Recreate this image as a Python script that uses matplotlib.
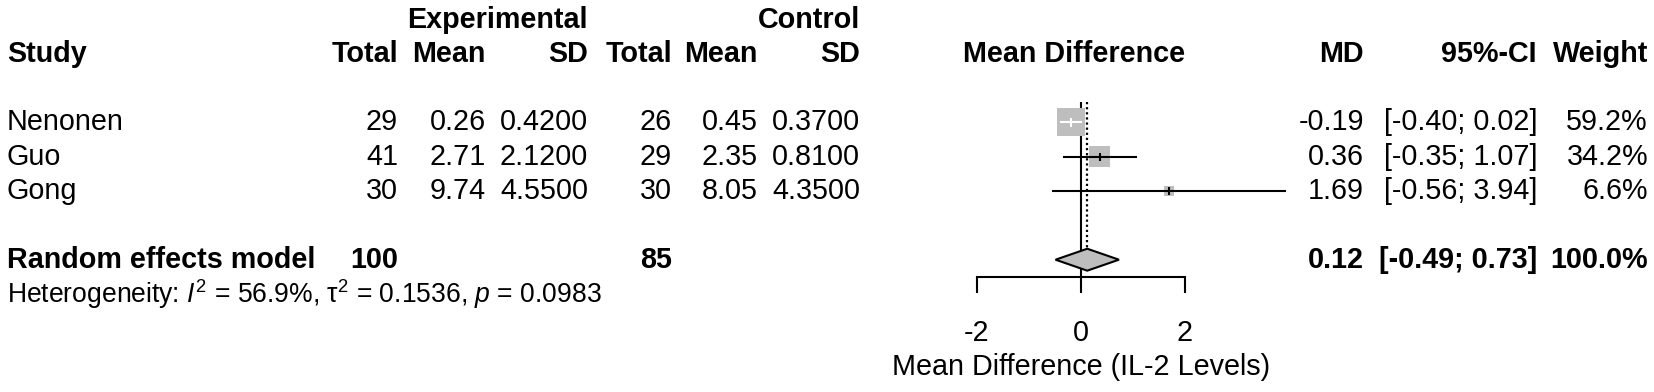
import numpy as np
import matplotlib
matplotlib.use('Agg')
import matplotlib.pyplot as plt
from matplotlib.patches import Polygon, Rectangle

plt.rcParams['font.family'] = ['Liberation Sans', 'DejaVu Sans']
plt.rcParams['mathtext.fontset'] = 'custom'
plt.rcParams['mathtext.rm'] = 'Liberation Sans'
plt.rcParams['mathtext.it'] = 'Liberation Sans:italic'

# study data
studies = ['Nenonen', 'Guo', 'Gong']
exp_n = [29, 41, 30]
exp_mean = [0.26, 2.71, 9.74]
exp_sd = [0.42, 2.12, 4.55]
ctl_n = [26, 29, 30]
ctl_mean = [0.45, 2.35, 8.05]
ctl_sd = [0.37, 0.81, 4.35]
md = [-0.19, 0.36, 1.69]
ci_lo = [-0.40, -0.35, -0.56]
ci_hi = [0.02, 1.07, 3.94]
weight = [59.2, 34.2, 6.6]

# pooled (random effects)
re_n_exp, re_n_ctl = 100, 85
re_md, re_lo, re_hi = 0.12, -0.49, 0.73
re_weight = 100.0
het_text = r"Heterogeneity: $\mathit{I}^{2}$ = 56.9%, τ$^{2}$ = 0.1536, $\mathit{p}$ = 0.0983"

xticks = [-2, 0, 2]
xlabel = 'Mean Difference (IL-2 Levels)'

W, H, DPI = 1654, 392, 100
FS = 20.7
FS_HET = 19.1
GRAY = '#BEBEBE'
ylim = (7.857, -3.571)  # row units, row 0 = first study
px_per_row = H / (ylim[0] - ylim[1])

fig = plt.figure(figsize=(W / DPI, H / DPI), dpi=DPI)
fig.patch.set_facecolor('white')

# text layer, x in pixels, y in rows
ax = fig.add_axes([0, 0, 1, 1])
ax.set_xlim(0, W)
ax.set_ylim(*ylim)
ax.axis('off')

col_study = 7
col_en, col_em, col_es = 398, 486, 588
col_cn, col_cm, col_cs = 672, 758, 860
col_md, col_ci, col_w = 1364, 1537, 1648

bold = dict(fontsize=FS, fontweight='bold', va='center')
norm = dict(fontsize=FS, va='center')

ax.text(col_es, -3, 'Experimental', ha='right', **bold)
ax.text(col_cs, -3, 'Control', ha='right', **bold)
ax.text(col_study, -2, 'Study', ha='left', **bold)
for x, lab in [(col_en, 'Total'), (col_em, 'Mean'), (col_es, 'SD'),
               (col_cn, 'Total'), (col_cm, 'Mean'), (col_cs, 'SD'),
               (col_md, 'MD'), (col_ci, '95%-CI'), (col_w, 'Weight')]:
    ax.text(x, -2, lab, ha='right', **bold)
ax.text(1074, -2, 'Mean Difference', ha='center', **bold)

for i, s in enumerate(studies):
    ax.text(col_study, i, s, ha='left', **norm)
    ax.text(col_en, i, f'{exp_n[i]}', ha='right', **norm)
    ax.text(col_em, i, f'{exp_mean[i]:.2f}', ha='right', **norm)
    ax.text(col_es, i, f'{exp_sd[i]:.4f}', ha='right', **norm)
    ax.text(col_cn, i, f'{ctl_n[i]}', ha='right', **norm)
    ax.text(col_cm, i, f'{ctl_mean[i]:.2f}', ha='right', **norm)
    ax.text(col_cs, i, f'{ctl_sd[i]:.4f}', ha='right', **norm)
    ax.text(col_md, i, f'{md[i]:.2f}', ha='right', **norm)
    ax.text(col_ci, i, f'[{ci_lo[i]:.2f}; {ci_hi[i]:.2f}]', ha='right', **norm)
    ax.text(col_w, i, f'{weight[i]:.1f}%', ha='right', **norm)

r = 4
ax.text(col_study, r, 'Random effects model', ha='left', **bold)
ax.text(col_en, r, f'{re_n_exp}', ha='right', **bold)
ax.text(col_cn, r, f'{re_n_ctl}', ha='right', **bold)
ax.text(col_md, r, f'{re_md:.2f}', ha='right', **bold)
ax.text(col_ci, r, f'[{re_lo:.2f}; {re_hi:.2f}]', ha='right', **bold)
ax.text(col_w, r, f'{re_weight:.1f}%', ha='right', **bold)
ax.text(col_study, 5, het_text, ha='left', va='center', fontsize=FS_HET)

# forest panel: 0 at 1081 px, 52 px per unit
x0_px, ppu = 1081, 52
xmin, xmax = -2.6, 4.3
left = (x0_px + xmin * ppu) / W
width = (xmax - xmin) * ppu / W
fx = fig.add_axes([left, 0, width, 1])
fx.set_xlim(xmin, xmax)
fx.set_ylim(*ylim)
fx.patch.set_visible(False)
for sp in ['top', 'left', 'right']:
    fx.spines[sp].set_visible(False)
fx.spines['bottom'].set_position(('data', 4.5))
fx.spines['bottom'].set_bounds(xticks[0], xticks[-1])
fx.spines['bottom'].set_linewidth(1.5)
fx.set_yticks([])
fx.set_xticks(xticks)
fx.set_xticklabels([str(t) for t in xticks])
fx.tick_params(axis='x', direction='out', length=11.5, width=1.5, labelsize=FS, pad=19)
fx.text(0, 7.12, xlabel, ha='center', va='center', fontsize=FS)

# reference lines
fx.vlines(0, -0.61, 4.5, color='black', lw=1.5, zorder=1)
dh = 0.32
fx.vlines(re_md, -0.61, r - dh, color='black', lw=1.6, linestyles=(0, (1, 1.3)), zorder=1)

# study squares (area ~ weight) and CIs
k_px = 3.64
for i in range(len(studies)):
    side_px = k_px * np.sqrt(weight[i])
    wx = side_px / ppu
    hy = side_px / px_per_row
    fx.add_patch(Rectangle((md[i] - wx / 2, i - hy / 2), wx, hy,
                           facecolor=GRAY, edgecolor='none', zorder=2))
    inside = ci_lo[i] > md[i] - wx / 2 and ci_hi[i] < md[i] + wx / 2
    c = 'white' if inside else 'black'
    fx.hlines(i, ci_lo[i], ci_hi[i], color=c, lw=1.5, zorder=3)
    fx.vlines(md[i], i - 0.12, i + 0.12, color=c, lw=1.5, zorder=3)

# pooled diamond
fx.add_patch(Polygon([(re_lo, r), (re_md, r - dh), (re_hi, r), (re_md, r + dh)],
                     closed=True, facecolor=GRAY, edgecolor='black', lw=1.5, zorder=3))

fig.savefig('out.png', dpi=DPI, facecolor='white')
